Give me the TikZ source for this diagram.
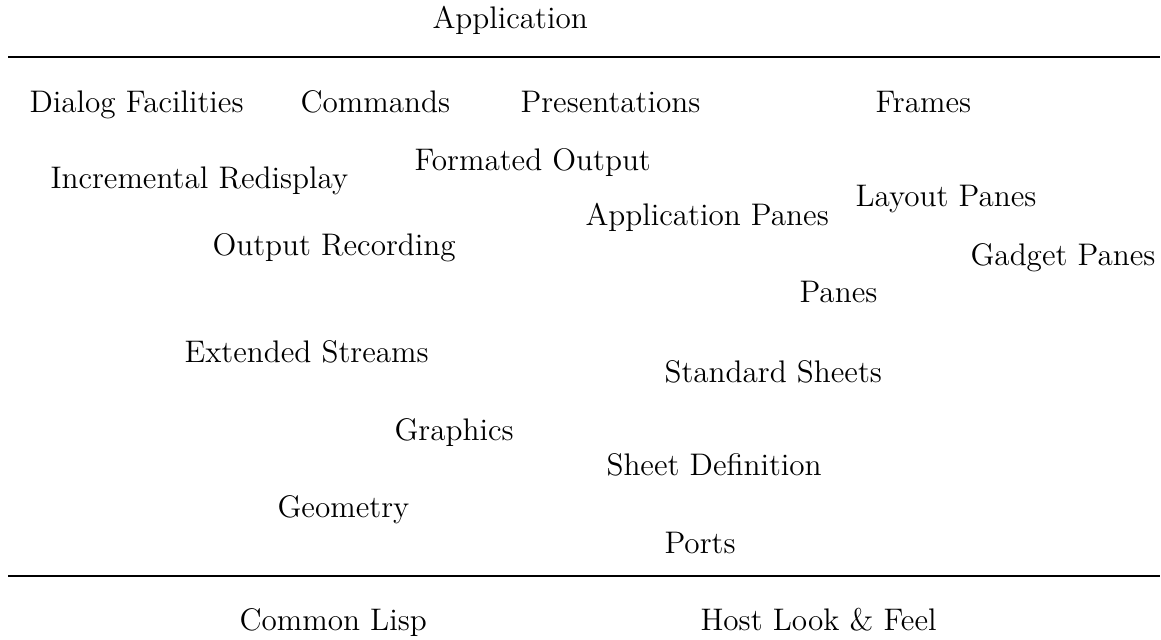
\documentclass[tikz,border=0pt]{standalone}
\begin{document}
\begin{tikzpicture}[x=0.01352cm,y=-0.01352cm,
  lbl/.style={inner sep=0pt,font=\large,anchor=base west},
  rule/.style={line width=0.8pt}]
\useasboundingbox (0,0) rectangle (1161,640);
\node[lbl] (app) at (432,29) {Application};
\coordinate (l1a) at (8,57);
\coordinate (l1b) at (1160,57);
\draw[rule] (l1a) -- (l1b);
\node[lbl] (dialog) at (29,113) {Dialog Facilities};
\node[lbl] (cmd) at (300,113) {Commands};
\node[lbl] (pres) at (520,113) {Presentations};
\node[lbl] (frames) at (875,113) {Frames};
\node[lbl] (fmt) at (414,171) {Formated Output};
\node[lbl] (incr) at (50,189) {Incremental Redisplay};
\node[lbl] (layout) at (855,207) {Layout Panes};
\node[lbl] (apppanes) at (585,226) {Application Panes};
\node[lbl] (gadget) at (970,266) {Gadget Panes};
\node[lbl] (outrec) at (212,256) {Output Recording};
\node[lbl] (panes) at (799,303) {Panes};
\node[lbl] (ext) at (184,363) {Extended Streams};
\node[lbl] (std) at (664,382) {Standard Sheets};
\node[lbl] (gfx) at (394,440) {Graphics};
\node[lbl] (sheetdef) at (606,475) {Sheet Definition};
\node[lbl] (geom) at (277,517) {Geometry};
\node[lbl] (ports) at (664,553) {Ports};
\coordinate (l2a) at (8,576);
\coordinate (l2b) at (1160,576);
\draw[rule] (l2a) -- (l2b);
\node[lbl] (cl) at (239,630) {Common Lisp};
\node[lbl] (host) at (700,630) {Host Look \& Feel};
\end{tikzpicture}
\end{document}
